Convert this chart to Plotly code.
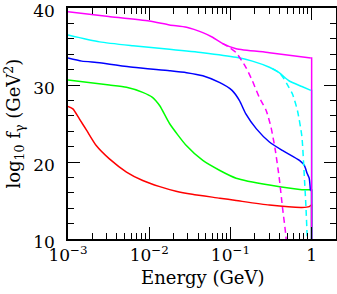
import numpy as np
import plotly.graph_objects as go

# log10(Energy / GeV) and log10 f_gamma (GeV^2)
magenta_logE = [-3.0, -2.5, -2.0, -1.75, -1.54, -1.34, -1.22, -1.10, -0.93, -0.52, -0.01]
magenta_y    = [39.5, 38.9, 38.3, 37.8, 37.5, 36.8, 36.2, 35.4, 34.7, 34.2, 33.5]

magenta_d_logE = [-1.10, -1.01, -0.93, -0.81, -0.73, -0.645, -0.56, -0.50, -0.45, -0.40, -0.36, -0.32, -0.30]
magenta_d_y    = [35.4, 34.86, 34.2, 32.3, 30.55, 28.4, 26.7, 24.5, 21.7, 18.0, 14.2, 10.7, 8.0]

cyan_logE = [-3.0, -2.61, -2.20, -1.75, -1.34, -0.93, -0.73, -0.52, -0.40, -0.28, -0.12, -0.01]
cyan_y    = [36.5, 35.6, 35.1, 34.65, 34.2, 33.6, 33.1, 32.3, 31.6, 30.55, 29.8, 29.3]

cyan_d_logE = [-0.48, -0.40, -0.34, -0.28, -0.235, -0.175, -0.12, -0.092, -0.07, -0.055, -0.05]
cyan_d_y    = [32.1, 31.6, 30.8, 29.7, 28.8, 26.7, 23.3, 18.5, 14.2, 10.2, 8.0]

blue_logE = [-3.0, -2.83, -2.61, -2.20, -1.75, -1.54, -1.34, -1.13, -0.98, -0.89, -0.81, -0.68,
             -0.52, -0.36, -0.15, -0.09, -0.055, -0.03, -0.015]
blue_y    = [33.5, 33.1, 32.9, 32.3, 31.85, 31.6, 31.2, 30.3, 29.3, 28.0, 26.25, 24.3,
             22.6, 21.5, 20.2, 19.55, 18.5, 17.9, 16.3]

green_logE = [-3.0, -2.49, -2.28, -2.08, -1.96, -1.87, -1.75, -1.54, -1.34, -1.13, -0.93, -0.52,
              -0.12, -0.01]
green_y    = [30.65, 30.0, 29.7, 29.05, 28.4, 27.3, 25.0, 22.1, 20.2, 18.9, 17.9, 17.0,
              16.4, 16.4]

red_logE = [-3.0, -2.94, -2.86, -2.77, -2.65, -2.49, -2.28, -2.08, -1.87, -1.67, -1.47, -1.13,
            -0.93, -0.52, -0.12, -0.03, -0.01]
red_y    = [27.2, 26.9, 25.6, 24.1, 22.1, 20.4, 18.7, 17.6, 16.8, 16.2, 15.8, 15.3,
            15.0, 14.4, 14.1, 14.2, 14.4]

# every solid curve ends with a vertical cut-off at E = 1 GeV
cutoff_E = 1.0
cutoff_floor = 0.0

x_tickvals = [1e-3, 1e-2, 1e-1, 1]
x_ticktext = ["10<sup>−3</sup>", "10<sup>−2</sup>", "10<sup>−1</sup>", "1"]
y_tickvals = [10, 20, 30, 40]

FONT = "DejaVu Serif"

solid = [
    (red_logE, red_y, "#ff0000"),
    (green_logE, green_y, "#00ff00"),
    (blue_logE, blue_y, "#0000ff"),
    (cyan_logE, cyan_y, "#00ffff"),
    (magenta_logE, magenta_y, "#ff00ff"),
]
dashed = [
    (cyan_d_logE, cyan_d_y, "#00ffff"),
    (magenta_d_logE, magenta_d_y, "#ff00ff"),
]

fig = go.Figure()
for lx, ly, col in solid:
    fig.add_trace(go.Scatter(
        x=np.power(10.0, np.array(lx)), y=ly, mode="lines",
        line=dict(color=col, width=1.5, shape="spline", smoothing=0.6), showlegend=False,
    ))
    fig.add_trace(go.Scatter(
        x=[np.power(10.0, lx[-1]), cutoff_E, cutoff_E], y=[ly[-1], ly[-1], cutoff_floor],
        mode="lines", line=dict(color=col, width=1.5), showlegend=False,
    ))
for lx, ly, col in dashed:
    fig.add_trace(go.Scatter(
        x=np.power(10.0, np.array(lx)), y=ly, mode="lines",
        line=dict(color=col, width=1.5, dash="6px,4px", shape="spline", smoothing=0.6),
        showlegend=False,
    ))

axis_common = dict(
    showgrid=False, zeroline=False, showline=True, linecolor="black", linewidth=1.5,
    mirror="allticks", ticks="inside", tickcolor="black", tickwidth=1, automargin=False,
    ticklabeloverflow="allow",
    tickfont=dict(family=FONT, size=17, color="black"),
)

fig.update_xaxes(
    type="log", range=[-3, 0.3], tickvals=x_tickvals, ticktext=x_ticktext, ticklen=12,
    minor=dict(ticks="inside", ticklen=6, tickcolor="black", tickwidth=1, dtick="D1", showgrid=False),
    **axis_common,
)
fig.update_yaxes(
    range=[10, 40], tickvals=y_tickvals, ticklen=12, ticklabelstandoff=8, ticklabelshift=3,
    minor=dict(ticks="inside", ticklen=6, tickcolor="black", tickwidth=1, dtick=2, showgrid=False),
    **axis_common,
)

fig.add_annotation(
    text="Energy (GeV)", xref="paper", yref="paper", x=0.5, y=-0.165,
    xanchor="center", yanchor="middle", showarrow=False,
    font=dict(family=FONT, size=18, color="black"),
)
fig.add_annotation(
    text="log<sub>10</sub> f<sub>γ</sub> (GeV<sup>2</sup>)", xref="paper", yref="paper",
    x=-0.205, y=0.5, xanchor="center", yanchor="middle", textangle=-90, showarrow=False,
    font=dict(family=FONT, size=18, color="black"),
)

fig.update_layout(
    width=337, height=294, margin=dict(l=68, r=1, t=8, b=55, autoexpand=False),
    paper_bgcolor="white", plot_bgcolor="white", showlegend=False,
)

fig.write_html(
    "out.html",
    config={"displayModeBar": False},
    post_script="document.body.style.margin='0';document.body.style.padding='0';",
)
